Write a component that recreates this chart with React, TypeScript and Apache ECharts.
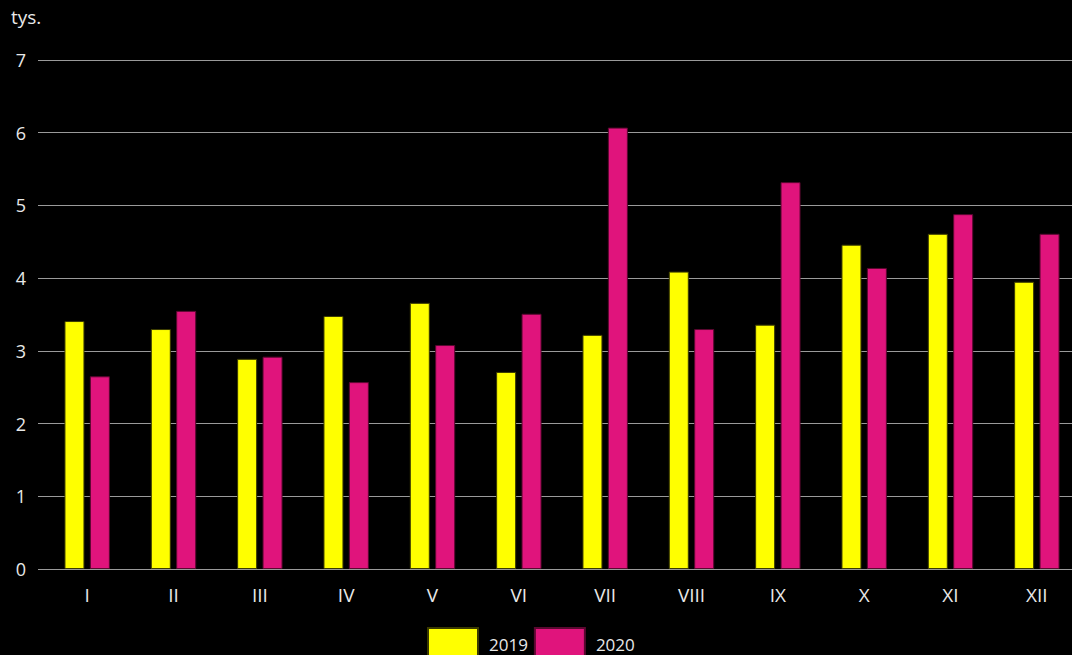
import React, { useEffect, useRef } from "react";
import * as echarts from "echarts";

const months = ["I", "II", "III", "IV", "V", "VI", "VII", "VIII", "IX", "X", "XI", "XII"];
const values2019 = [3.41, 3.30, 2.89, 3.48, 3.66, 2.71, 3.22, 4.09, 3.36, 4.46, 4.61, 3.95];
const values2020 = [2.65, 3.55, 2.92, 2.57, 3.08, 3.51, 6.07, 3.30, 5.32, 4.14, 4.88, 4.61];
const yTicks = [0, 1, 2, 3, 4, 5, 6, 7];

export default function App() {
  const ref = useRef<HTMLDivElement>(null);
  useEffect(() => {
    document.body.style.margin = "0";
    document.body.style.overflow = "hidden";
    document.body.style.background = "#000";
    const chart = echarts.init(ref.current!, null, { renderer: "svg" });
    const font = "Open Sans";
    chart.setOption({
      animation: false,
      backgroundColor: "#000",
      textStyle: { fontFamily: font },
      title: {
        text: "tys.",
        left: 6,
        top: 2,
        textStyle: { color: "#e8e8e8", fontSize: 19, fontWeight: "normal", fontFamily: font },
      },
      legend: {
        left: 427,
        top: 627,
        padding: 0,
        icon: "rect",
        itemWidth: 50,
        itemHeight: 32,
        itemGap: 6,
        textStyle: { color: "#e8e8e8", fontSize: 17, fontFamily: font, padding: [0, 0, 0, 6] },
        data: ["2019", "2020"],
      },
      grid: [
        { left: 44, right: 0, top: 60, bottom: 86, containLabel: false },
        { left: 38, right: 8, top: 60, bottom: 86, containLabel: false },
      ],
      xAxis: [
        {
          type: "category",
          gridIndex: 0,
          data: months,
          axisLine: { show: false },
          axisTick: { show: false },
          axisLabel: { color: "#e8e8e8", fontSize: 19, margin: 16, fontFamily: font },
        },
        {
          type: "value",
          gridIndex: 1,
          show: false,
          min: 0,
          max: 1,
        },
      ],
      yAxis: [
        {
          type: "value",
          gridIndex: 0,
          min: yTicks[0],
          max: yTicks[yTicks.length - 1],
          interval: 1,
          axisLine: { show: false },
          axisTick: { show: false },
          splitLine: { show: false },
          axisLabel: { color: "#e8e8e8", fontSize: 18, margin: 18, fontFamily: font },
        },
        {
          type: "value",
          gridIndex: 1,
          min: yTicks[0],
          max: yTicks[yTicks.length - 1],
          interval: 1,
          axisLine: { show: false },
          axisTick: { show: false },
          axisLabel: { show: false },
          splitLine: { show: true, lineStyle: { color: "#9a9a9a", width: 1 } },
        },
      ],
      series: [
        {
          name: "2019",
          type: "bar",
          xAxisIndex: 0,
          yAxisIndex: 0,
          data: values2019,
          barWidth: 20,
          barGap: "27%",
          itemStyle: { color: "#ffff00", borderColor: "#3a3a00", borderWidth: 1 },
          z: 3,
        },
        {
          name: "2020",
          type: "bar",
          xAxisIndex: 0,
          yAxisIndex: 0,
          data: values2020,
          barWidth: 20,
          barGap: "27%",
          itemStyle: { color: "#e0147c", borderColor: "#5a0830", borderWidth: 1 },
          z: 3,
        },
      ],
    });
    return () => chart.dispose();
  }, []);
  return <div ref={ref} style={{ width: 1080, height: 655, background: "#000" }} />;
}
